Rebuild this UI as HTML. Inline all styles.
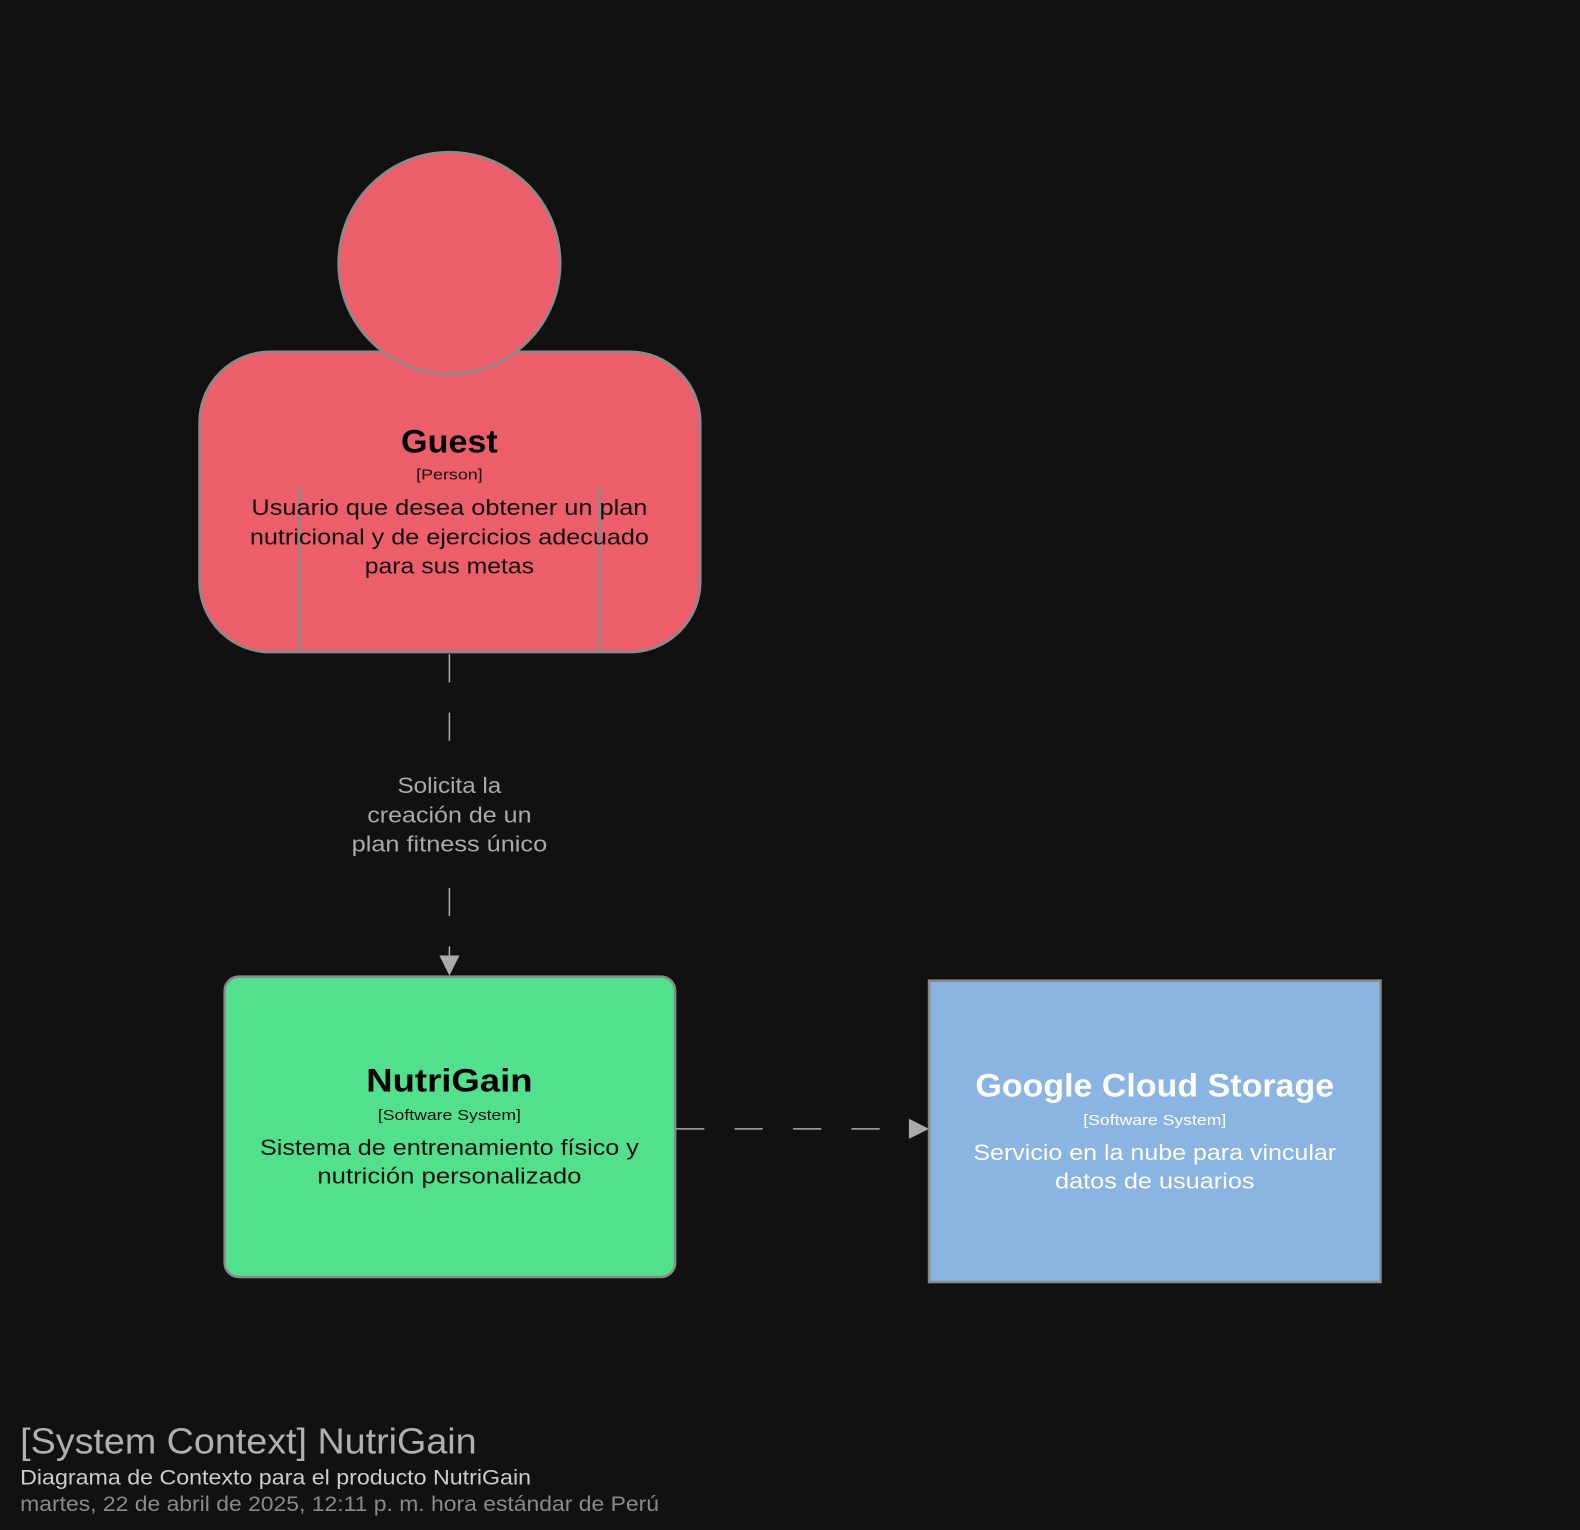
<!DOCTYPE html>
<html><head><meta charset="utf-8"><style>
html,body{margin:0;padding:0;background:#111;}
svg{display:block;}
text{font-family:"Liberation Sans",sans-serif;text-anchor:middle;}
</style></head><body>
<svg width="1580" height="1530" viewBox="0 0 1568 1518" preserveAspectRatio="none" xmlns="http://www.w3.org/2000/svg">
<rect width="1568" height="1518" fill="#111111"/>
<rect x="198" y="349" width="497" height="298" rx="70" fill="#eb5e6a" stroke="#8a8a8a" stroke-width="2.5"/>
<circle cx="446" cy="261" r="110" fill="#eb5e6a" stroke="#8a8a8a" stroke-width="2.5"/>
<line x1="297" y1="482" x2="297" y2="646" stroke="#8a8a8a" stroke-width="2.5"/>
<line x1="595" y1="482" x2="595" y2="646" stroke="#8a8a8a" stroke-width="2.5"/>
<text x="446" y="449" font-size="32" font-weight="bold" fill="#000" textLength="96" lengthAdjust="spacingAndGlyphs">Guest</text>
<text x="446" y="476" font-size="15" fill="#111" textLength="66" lengthAdjust="spacingAndGlyphs">[Person]</text>
<text x="446" y="511" font-size="22" fill="#111" textLength="393" lengthAdjust="spacingAndGlyphs">Usuario que desea obtener un plan</text>
<text x="446" y="540" font-size="22" fill="#111" textLength="396" lengthAdjust="spacingAndGlyphs">nutricional y de ejercicios adecuado</text>
<text x="446" y="569" font-size="22" fill="#111" textLength="168" lengthAdjust="spacingAndGlyphs">para sus metas</text>
<line x1="446" y1="649" x2="446" y2="950" stroke="#aaaaaa" stroke-width="1.5" stroke-dasharray="28,30"/>
<rect x="340" y="760" width="212" height="92" fill="#111111"/>
<text x="446" y="787" font-size="22" fill="#aaaaaa" textLength="103" lengthAdjust="spacingAndGlyphs">Solicita la</text>
<text x="446" y="816" font-size="22" fill="#aaaaaa" textLength="163" lengthAdjust="spacingAndGlyphs">creación de un</text>
<text x="446" y="845" font-size="22" fill="#aaaaaa" textLength="194" lengthAdjust="spacingAndGlyphs">plan fitness único</text>
<polygon points="436,948 456,948 446,968" fill="#aaaaaa"/>
<rect x="223" y="969" width="447" height="298" rx="14" fill="#52e08c" stroke="#8a8a8a" stroke-width="2.5"/>
<text x="446" y="1083" font-size="32" font-weight="bold" fill="#000" textLength="165" lengthAdjust="spacingAndGlyphs">NutriGain</text>
<text x="446" y="1111" font-size="15" fill="#111" textLength="142" lengthAdjust="spacingAndGlyphs">[Software System]</text>
<text x="446" y="1146" font-size="22" fill="#111" textLength="376" lengthAdjust="spacingAndGlyphs">Sistema de entrenamiento físico y</text>
<text x="446" y="1174" font-size="22" fill="#111" textLength="262" lengthAdjust="spacingAndGlyphs">nutrición personalizado</text>
<line x1="671" y1="1120" x2="902" y2="1120" stroke="#aaaaaa" stroke-width="1.5" stroke-dasharray="28,30"/>
<polygon points="902,1110 902,1130 922,1120" fill="#aaaaaa"/>
<rect x="922" y="973" width="448" height="299" fill="#8ab4e2" stroke="#8a8a8a" stroke-width="2.5"/>
<text x="1146" y="1088" font-size="32" font-weight="bold" fill="#fff" textLength="356" lengthAdjust="spacingAndGlyphs">Google Cloud Storage</text>
<text x="1146" y="1116" font-size="15" fill="#fff" textLength="142" lengthAdjust="spacingAndGlyphs">[Software System]</text>
<text x="1146" y="1151" font-size="22" fill="#fff" textLength="360" lengthAdjust="spacingAndGlyphs">Servicio en la nube para vincular</text>
<text x="1146" y="1179" font-size="22" fill="#fff" textLength="198" lengthAdjust="spacingAndGlyphs">datos de usuarios</text>
<text x="20" y="1442" font-size="36" fill="#b0b0b0" style="text-anchor:start" textLength="453" lengthAdjust="spacingAndGlyphs">[System Context] NutriGain</text>
<text x="20" y="1473" font-size="21" fill="#cccccc" style="text-anchor:start" textLength="507" lengthAdjust="spacingAndGlyphs">Diagrama de Contexto para el producto NutriGain</text>
<text x="20" y="1499" font-size="21" fill="#8a8a8a" style="text-anchor:start" textLength="634" lengthAdjust="spacingAndGlyphs">martes, 22 de abril de 2025, 12:11 p. m. hora estándar de Perú</text>
</svg>
</body></html>
